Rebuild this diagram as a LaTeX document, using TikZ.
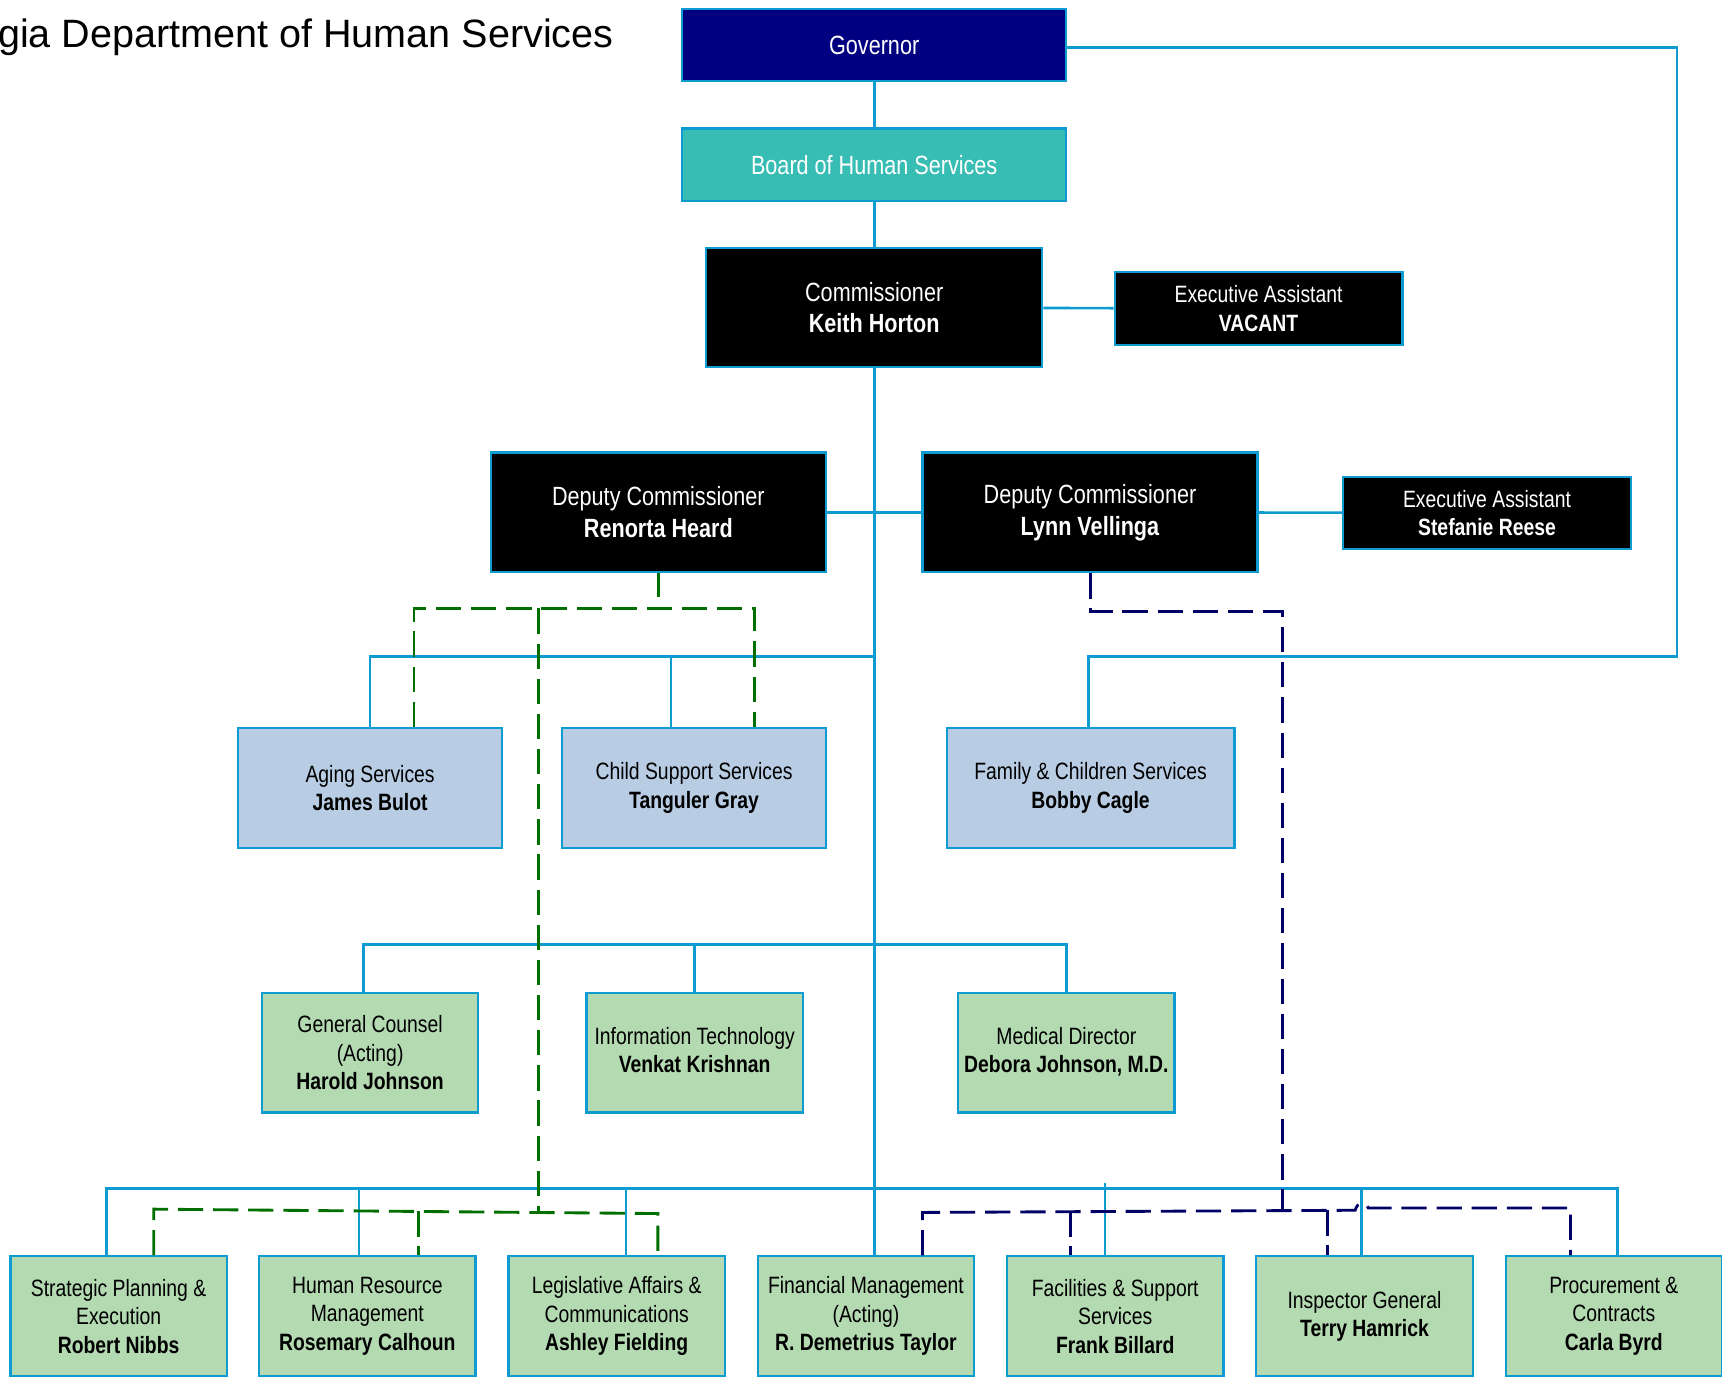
\documentclass[tikz,border=0pt]{standalone}
\usepackage{fontspec}
\setmainfont{Liberation Sans}[FakeStretch=0.82]
\newfontfamily\titlefont{Liberation Sans}
\definecolor{linecol}{RGB}{14,155,210}
\definecolor{govblue}{RGB}{0,0,128}
\definecolor{boardteal}{RGB}{55,189,179}
\definecolor{divblue}{RGB}{184,204,228}
\definecolor{offgreen}{RGB}{180,218,178}
\definecolor{dgreen}{RGB}{0,110,0}
\definecolor{dnavy}{RGB}{0,0,102}
\tikzset{
  orgbox/.style={draw=linecol,line width=1pt,inner sep=0pt,align=center},
  bigtext/.style={font=\fontsize{12}{14.5}\selectfont},
  smalltext/.style={font=\fontsize{10.75}{13}\selectfont},
  headbox/.style={orgbox,bigtext,text=white,minimum width=175pt,minimum height=33pt},
  chiefbox/.style={orgbox,bigtext,fill=black,text=white,minimum width=152.5pt,minimum height=54.5pt},
  assistbox/.style={orgbox,smalltext,fill=black,text=white,minimum width=131pt,minimum height=33pt},
  divbox/.style={orgbox,smalltext,fill=divblue,minimum width=120pt,minimum height=54.5pt},
  officebox/.style={orgbox,smalltext,fill=offgreen,minimum width=98.5pt,minimum height=54.5pt},
  conn/.style={draw=linecol,line width=1.2pt},
  gdash/.style={draw=dgreen,line width=1.3pt,dash pattern=on 11.5pt off 4.5pt},
  ndash/.style={draw=dnavy,line width=1.3pt,dash pattern=on 11.5pt off 4.5pt}
}
\begin{document}
\begin{tikzpicture}[x=0.5pt,y=-0.5pt]
                \useasboundingbox (0,0) rectangle (1568,1254);
                %% title
                \node[anchor=east,inner sep=0pt,font=\titlefont\fontsize{18}{22}\selectfont] (title) at (559,34) {gia Department of Human Services};
                %% top
                \node[headbox,fill=govblue] (gov) at (796,41) {Governor};
                \node[headbox,fill=boardteal] (board) at (796,150) {Board of Human Services};
                \node[chiefbox,minimum width=153pt] (comm) at (796,280) {Commissioner\\\textbf{Keith Horton}};
                \node[assistbox] (eaone) at (1146,281) {Executive Assistant\\\textbf{VACANT}};
                %% deputies
                \node[chiefbox] (heard) at (599.5,466.5) {Deputy Commissioner\\\textbf{Renorta Heard}};
                \node[chiefbox] (vell) at (992.5,466.5) {Deputy Commissioner\\\textbf{Lynn Vellinga}};
                \node[assistbox] (eatwo) at (1354,467) {Executive Assistant\\\textbf{Stefanie Reese}};
                %% divisions
                \node[divbox] (aging) at (337,717.5) {Aging Services\\\textbf{James Bulot}};
                \node[divbox] (child) at (632,717.5) {Child Support Services\\\textbf{Tanguler Gray}};
                \node[divbox,minimum width=131pt] (family) at (993,717.5) {Family \& Children Services\\\textbf{Bobby Cagle}};
                %% offices
                \node[officebox] (counsel) at (337,958.5) {General Counsel\\(Acting)\\\textbf{Harold Johnson}};
                \node[officebox] (infotech) at (632.5,958.5) {\raisebox{2.5pt}{\begin{tabular}{@{}c@{}}Information Technology\\\textbf{Venkat Krishnan}\end{tabular}}};
                \node[officebox] (medical) at (971,958.5) {\raisebox{3pt}{\begin{tabular}{@{}c@{}}Medical Director\\\textbf{Debora Johnson, M.D.}\end{tabular}}};
                \node[officebox] (strat) at (108,1198.5) {Strategic Planning \&\\Execution\\\textbf{Robert Nibbs}};
                \node[officebox] (hrm) at (334.5,1198.5) {Human Resource\\Management\\\textbf{Rosemary Calhoun}};
                \node[officebox] (legis) at (561.5,1198.5) {Legislative Affairs \&\\Communications\\\textbf{Ashley Fielding}};
                \node[officebox] (finance) at (788.5,1198.5) {Financial Management\\(Acting)\\\textbf{R. Demetrius Taylor}};
                \node[officebox] (facil) at (1015.5,1198.5) {Facilities \& Support\\Services\\\textbf{Frank Billard}};
                \node[officebox] (inspect) at (1242.5,1198.5) {Inspector General\\\textbf{Terry Hamrick}};
                \node[officebox] (procure) at (1469.5,1198.5) {Procurement \&\\Contracts\\\textbf{Carla Byrd}};
                %% reporting lines
                \coordinate (govR) at (1527,598);
                \coordinate (busA) at (796,598);
                \coordinate (busB) at (796,860);
                \coordinate (busL) at (97,1082);
                \coordinate (busR) at (1473,1082);
                \draw[conn] (gov) -- (board);
                \draw[conn] (board) -- (comm);
                \draw[conn] (comm) -- (eaone);
                \draw[conn] ([yshift=-1pt]gov.east) -| (govR) -| ([xshift=-1pt]family.north);
                \draw[conn] (comm.south) -- (comm.south |- finance.north);
                \draw[conn] (heard) -- (vell);
                \draw[conn] (vell) -- (eatwo);
                \draw[conn] (aging.north) |- (busA);
                \draw[conn] ([xshift=-10.5pt]child.north) |- (busA);
                \draw[conn] ([xshift=-3pt]counsel.north) |- (busB) -| (medical.north);
                \draw[conn] (infotech.north) -- (infotech.north |- busB);
                \draw[conn] ([xshift=-5.5pt]strat.north) -- (busL) -- (busR) -- ([xshift=1.75pt]procure.north);
                \draw[conn] ([xshift=-3.75pt]hrm.north) |- (busB |- busL);
                \draw[conn] ([xshift=4.25pt]legis.north) |- (busB |- busL);
                \draw[conn] ([xshift=-4.75pt]facil.north) -- ++(0,-66);
                \draw[conn] ([xshift=-1.25pt]inspect.north) |- (busR);
                %% dotted line reports (Heard)
                \coordinate (gmid) at (599,554);
                \coordinate (gA) at (377,554);
                \coordinate (gB) at (687,554);
                \coordinate (gC) at (490,554);
                \coordinate (gL) at (140,1101);
                \coordinate (gH) at (381,1103);
                \coordinate (gR) at (599,1105);
                \draw[draw=dgreen,line width=1.3pt] (heard.south) -- ++(0,22);
                \draw[gdash] (gA |- aging.north) -- (gA) -- (gB) -- (gB |- child.north);
                \draw[gdash] (gC) -- (gC |- gH);
                \draw[gdash] (gL |- strat.north) -- (gL) -- (gR) -- (gR |- legis.north);
                \draw[gdash] (gH) -- (gH |- hrm.north);
                %% dotted line reports (Vellinga)
                \coordinate (nTop) at (1168,557);
                \coordinate (nBot) at (1168,1102);
                \coordinate (nL) at (840,1104);
                \coordinate (nF) at (975,1103);
                \coordinate (nI) at (1209,1102);
                \coordinate (nP) at (1430,1100);
                \draw[ndash] ([xshift=0.25pt]vell.south) |- (nTop) -- (nBot);
                \draw[ndash] (nL |- finance.north) -- (nL) -- (1234,1102) .. controls (1236,1094) and (1243,1094) .. (1246,1100) -- (nP) -- (nP |- procure.north);
                \draw[ndash] (nF) -- (nF |- facil.north);
                \draw[ndash] (nI) -- (nI |- inspect.north);
            \end{tikzpicture}
\end{document}
